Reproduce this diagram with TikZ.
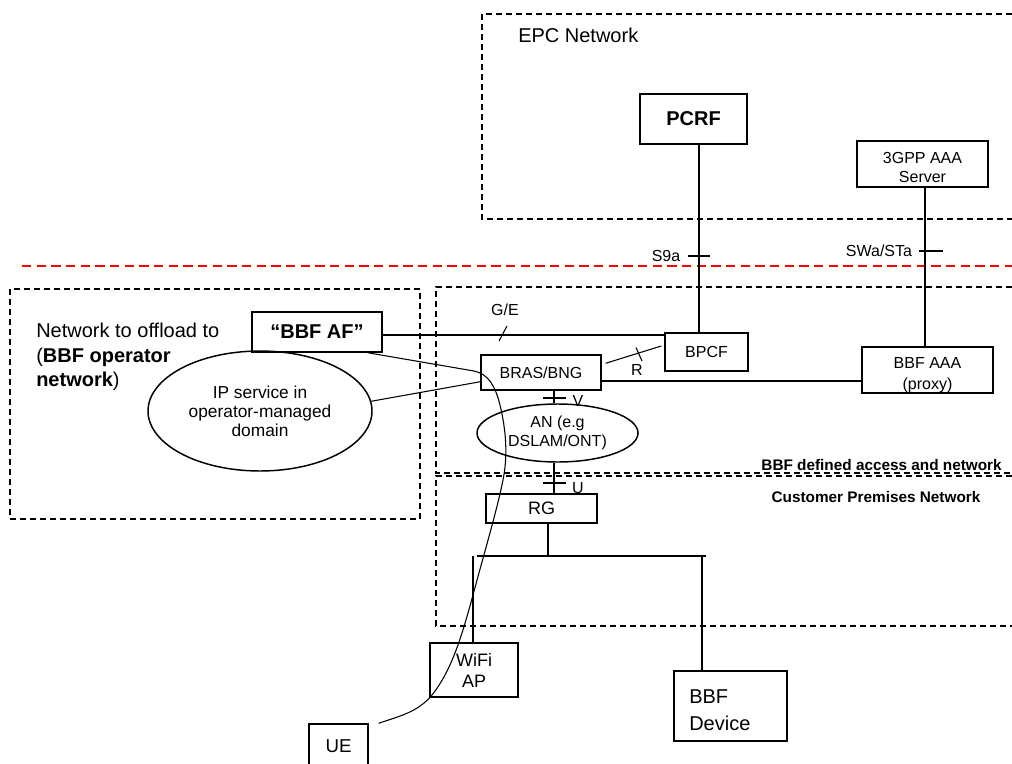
\documentclass[tikz,border=0pt]{standalone}
\usepackage{fontspec}
\setmainfont{Liberation Sans}
\usetikzlibrary{calc,shapes.geometric}
\newcommand{\fsz}[2]{\fontsize{#1pt}{#2pt}\selectfont}
\begin{document}
\begin{tikzpicture}[x=0.75pt,y=-0.75pt,
  box/.style={draw,line width=1.1pt,inner sep=0pt,align=center,font=\fsz{12}{14}},
  ell/.style={draw,ellipse,line width=1.1pt,inner sep=0pt,align=center},
  txt/.style={inner sep=0pt,align=center,font=\fsz{12}{14}},
  lab/.style={inner sep=0pt,font=\fsz{12}{14}},
  con/.style={line width=0.8pt},
  dsh/.style={line width=0.8pt,dash pattern=on 4.5pt off 3pt},
  reddsh/.style={red,line width=1.3pt,dash pattern=on 7pt off 4pt}]
\useasboundingbox (0,0) rectangle (1012,763);

% dashed regions
\draw[dsh] (1012,14) -- (482,14) -- (482,219) -- (1012,219);
\draw[dsh] (1012,287) -- (436,287) -- (436,473) -- (1012,473);
\draw[dsh] (1012,476) -- (436,476) -- (436,626) -- (1012,626);
\draw[dsh] (10,289) rectangle (420,519);
\draw[reddsh] (22,266) -- (1012,266);

% region labels
\node[anchor=west,inner sep=0pt,font=\fsz{15}{18}] (EPC) at (518,35) {EPC Network};
\node[anchor=west,inner sep=0pt,align=left,font=\fsz{15}{18.4}] (off) at (36,357)
  {Network to offload to\\(\textbf{BBF operator}\\\textbf{network})};
\node[anchor=base east,inner sep=0pt,font=\fsz{11.5}{13}\bfseries] (bbfdef) at (1002,470) {BBF defined access and network};
\node[inner sep=0pt,font=\fsz{11.5}{13}\bfseries] (cpn) at (876,497) {Customer Premises Network};

% boxes
\node[box,minimum width=80.25pt,minimum height=37.5pt,font=\fsz{15}{18}\bfseries] (PCRF) at (693.5,119) {PCRF};
\node[box,minimum width=98.25pt,minimum height=34.5pt] (AAA3) at (922.5,164) {};
\node[txt,font=\fsz{12}{14.25}] (AAA3t) at (922.5,167.5) {3GPP AAA\\Server};
\node[box,minimum width=97.5pt,minimum height=30pt,font=\fsz{15}{18}\bfseries] (AF) at (317,332) {“BBF AF”};
\node[box,minimum width=62.25pt,minimum height=28.5pt] (BPCF) at (706.5,352) {BPCF};
\node[box,minimum width=90pt,minimum height=26.25pt] (BRAS) at (541,372.5) {BRAS/BNG};
\node[box,minimum width=98.25pt,minimum height=34.5pt] (BBFAAA) at (927.5,370) {};
\node[txt,font=\fsz{12}{15.75}] (BBFAAAt) at (927.5,375.5) {BBF AAA\\(proxy)};
\node[box,minimum width=83.25pt,minimum height=21.75pt,font=\fsz{13.5}{15}] (RG) at (541.5,508.5) {RG};
\node[box,minimum width=66pt,minimum height=40.5pt,font=\fsz{13.5}{15.75}] (WiFi) at (474,670) {WiFi\\AP};
\node[box,minimum width=84.75pt,minimum height=52.5pt] (Dev) at (730.5,706) {};
\node[txt,anchor=west,align=left,font=\fsz{15}{20.5}] (Devt) at (689,710.5) {BBF\\Device};
\node[box,minimum width=44.25pt,minimum height=33pt,font=\fsz{14}{16}] (UE) at (338.5,746) {UE};

% ellipses
\node[ell,minimum width=168pt,minimum height=90pt,font=\fsz{13}{14.25}] (IP) at (260,411)
  {IP service in\\operator-managed\\domain};
\node[ell,minimum width=120.75pt,minimum height=43.5pt,font=\fsz{12}{14.25}] (AN) at (557.5,433)
  {AN (e.g\\DSLAM/ONT)};

% reference points
\coordinate (s9a) at (699,256);
\coordinate (swa) at (925,251);
\coordinate (ge) at (503,335);
\coordinate (ab) at (600,381);
\coordinate (vt) at (554,398);
\coordinate (ut) at (554,483);
\coordinate (rgx) at (548,556);
\coordinate (busL) at (477,556);
\coordinate (busR) at (706,556);
\coordinate (wx) at (473,556);
\coordinate (dx) at (702,556);

% interface labels
\node[lab] (S9al) at (666,256) {S9a};
\node[lab] (SWal) at (879,251) {SWa/STa};
\node[lab] (GEl) at (505,310) {G/E};
\node[lab] (Rl) at (637,370) {R};
\node[lab] (Vl) at (578,401) {V};
\node[lab] (Ul) at (578,488) {U};

% connectors
\draw[con] (PCRF.south -| s9a) -- (BPCF.north -| s9a);
\draw[con] ($(s9a)+(-11,0)$) -- ($(s9a)+(11,0)$);
\draw[con] (AAA3.south -| swa) -- (BBFAAA.north -| swa);
\draw[con] ($(swa)+(-6,0)$) -- ($(swa)+(18,0)$);
\draw[con] (AF.east |- ge) -- (BPCF.west |- ge);
\draw[con] ($(ge)+(4,-9)$) -- ($(ge)+(-4,6)$);
\draw[con] ($(BRAS.north east)+(4,9)$) -- ($(BPCF.west)+(-3,-6)$);
\draw[con] (636,347.5) -- (642,361);
\draw[con] (BRAS.east |- ab) -- (BBFAAA.west |- ab);
\draw[con] (IP.5) -- ($(BRAS.south west)+(0,-9)$);
\draw[con] (BRAS.south -| vt) -- (AN.north -| vt);
\draw[con] ($(vt)+(-11,0)$) -- ($(vt)+(12,0)$);
\draw[con] (AN.south -| ut) -- (RG.north -| ut);
\draw[con] ($(ut)+(-11,0)$) -- ($(ut)+(12,0)$);
\draw[con] (RG.south -| rgx) -- (rgx);
\draw[line width=1.1pt] (busL) -- (busR);
\draw[con] (wx) -- (WiFi.north -| wx);
\draw[con] (dx) -- (Dev.north -| dx);

% UE path
\coordinate (ueend) at ($(UE.north east)+(10,0)$);
\draw[con] ($(AF.south east)+(-15,0)$) -- (474,371)
  .. controls (488,374) and (495,385) .. (500,405)
  .. controls (506,430) and (508,455) .. (503,480)
  .. controls (497,510) and (485,550) .. (473,595)
  .. controls (462,635) and (452,670) .. (432,695)
  .. controls (418,712) and (400,716) .. (ueend);
\end{tikzpicture}
\end{document}
